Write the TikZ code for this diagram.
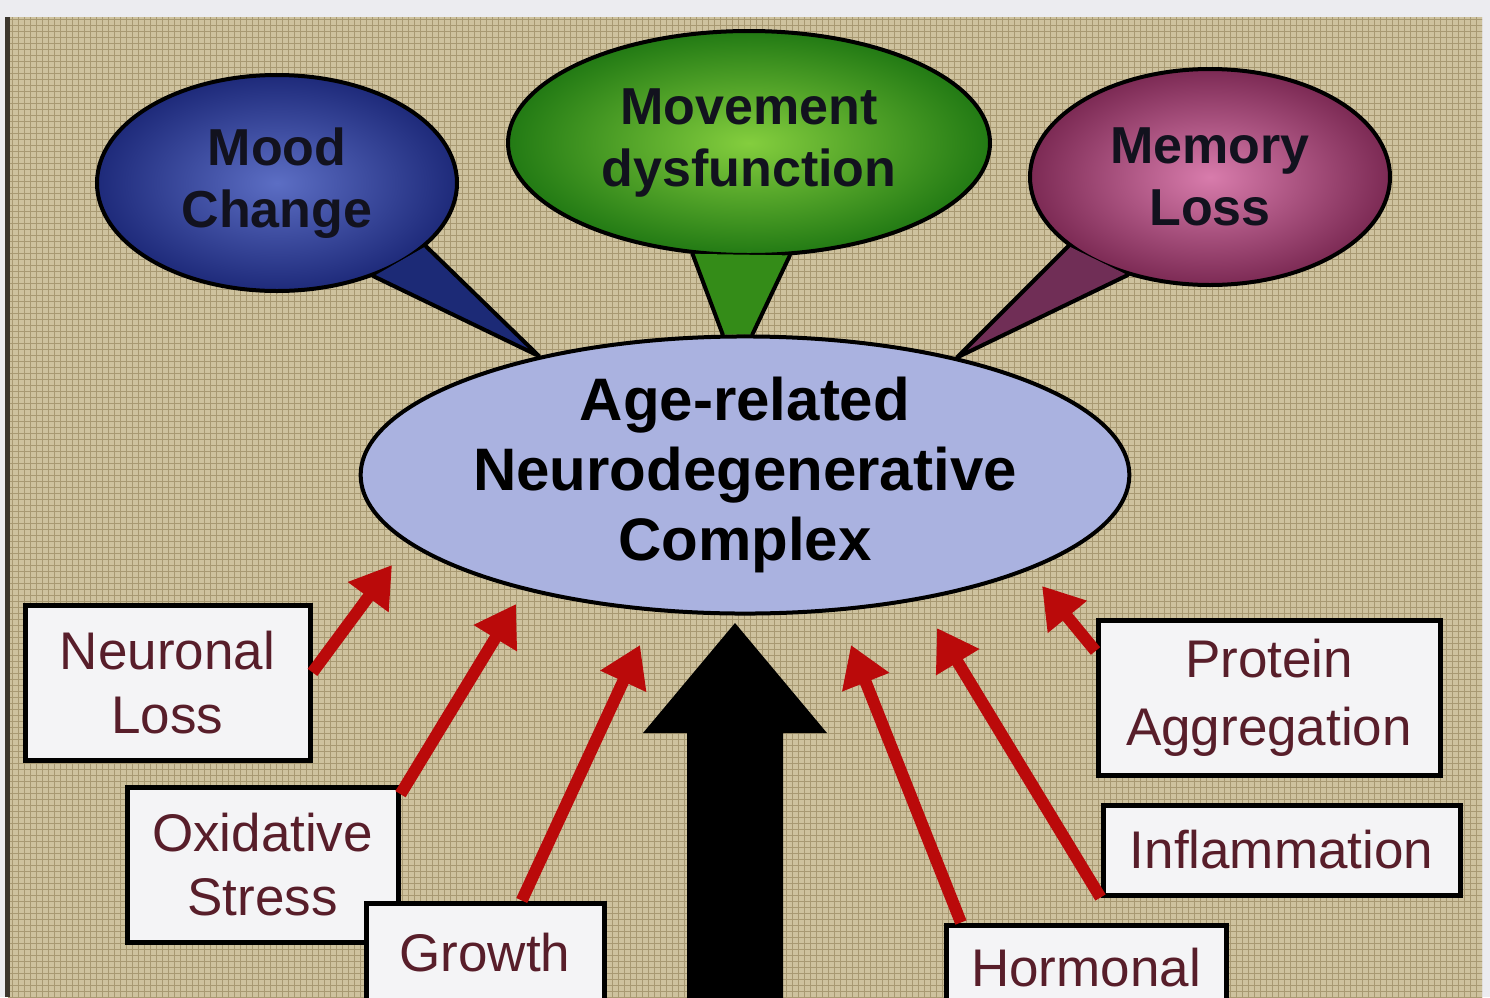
\documentclass[tikz,border=0pt]{standalone}
\usepackage{fontspec}
\setmainfont{Liberation Sans}
\usetikzlibrary{arrows.meta,shapes.geometric,shadows,patterns,calc}
\definecolor{pagegray}{RGB}{236,236,240}
\definecolor{burlap}{RGB}{206,194,158}
\definecolor{burlapdark}{RGB}{168,153,114}
\definecolor{edgedark}{RGB}{60,54,46}
\definecolor{moodin}{RGB}{92,110,196}
\definecolor{moodout}{RGB}{30,42,122}
\definecolor{moodtail}{RGB}{28,42,118}
\definecolor{movein}{RGB}{132,206,62}
\definecolor{moveout}{RGB}{34,122,20}
\definecolor{movetail}{RGB}{52,140,24}
\definecolor{memin}{RGB}{216,124,172}
\definecolor{memout}{RGB}{124,42,84}
\definecolor{memtail}{RGB}{112,46,86}
\definecolor{coreblue}{RGB}{170,178,224}
\definecolor{boxwhite}{RGB}{244,244,246}
\definecolor{boxtext}{RGB}{88,30,42}
\definecolor{arrowred}{RGB}{186,10,10}
\definecolor{bubbletext}{RGB}{18,18,30}
\pgfdeclarelayer{bg}
\pgfdeclarelayer{tails}
\pgfdeclarelayer{front}
\pgfsetlayers{bg,main,tails,front}
\tikzset{
  bubble/.style={ellipse, draw=black, line width=2pt, inner sep=0pt, align=center,
    text=bubbletext, font=\bfseries\fontsize{26}{31}\selectfont},
  core/.style={ellipse, draw=black, line width=2pt, fill=coreblue, inner sep=0pt,
    align=center, font=\bfseries\fontsize{30}{35}\selectfont,
    minimum width=380pt, minimum height=130pt},
  factor/.style={rectangle, draw=black, line width=2.5pt, fill=boxwhite, inner sep=0pt,
    align=center, text=boxtext, font=\fontsize{26.5}{32}\selectfont,
    drop shadow={shadow xshift=1.5pt, shadow yshift=-1.5pt, opacity=0.45}},
  redarrow/.style={draw=arrowred, line width=6pt, -{Triangle[length=20pt,width=24pt]}},
  tailline/.style={draw=black, line width=2pt, line join=round, line cap=round}
}
\begin{document}
\begin{tikzpicture}[x=0.5pt,y=-0.5pt]
\useasboundingbox (0,0) rectangle (1490,997);
\begin{pgfonlayer}{bg}
  \fill[pagegray] (0,0) rectangle (1490,997);
  \fill[burlap] (8,17) rectangle (1482,997);
  \fill[pattern=grid, pattern color=burlapdark] (8,17) rectangle (1482,997);
  \fill[edgedark] (5,17) rectangle (10,997);
\end{pgfonlayer}
\clip (0,0) rectangle (1490,997);

% central node
\begin{pgfonlayer}{front}
  \node[core] (core) at (745,475) {Age-related\\Neurodegenerative\\Complex};
\end{pgfonlayer}

% bubbles
\node[bubble, minimum width=180pt, minimum height=108pt, inner color=moodin, outer color=moodout] (mood) at (277,183) {Mood\\Change};
\node[bubble, minimum width=241pt, minimum height=112pt, inner color=movein, outer color=moveout] (move) at (749,143) {Movement\\dysfunction};
\node[bubble, minimum width=180pt, minimum height=108pt, inner color=memin, outer color=memout] (mem) at (1210,177) {Memory\\Loss};

% bubble tails
\begin{pgfonlayer}{tails}
  \fill[moodtail] (mood.-44) -- (core.150) -- (mood.-23) -- cycle;
  \draw[tailline] (mood.-44) -- (core.150) -- (mood.-23);
  \fill[movetail] (move.-117) -- (core.99) -- (core.87) -- (move.-70) -- cycle;
  \draw[tailline] (move.-117) -- (core.99);
  \draw[tailline] (move.-70) -- (core.87);
  \fill[memtail] (mem.-154) -- (core.29) -- (mem.-130) -- cycle;
  \draw[tailline] (mem.-154) -- (core.29) -- (mem.-130);
\end{pgfonlayer}

% factor boxes
\node[factor, minimum width=142.5pt, minimum height=77.5pt] (nl) at (167.5,682.5) {Neuronal\\Loss};
\node[factor, minimum width=135.5pt, minimum height=77.5pt] (ox) at (262.5,864.5) {Oxidative\\Stress};
\node[factor, minimum width=119pt, minimum height=50pt] (gr) at (485,953) {Growth};
\node[factor, minimum width=171pt, minimum height=77.5pt, font=\fontsize{26.5}{34}\selectfont] (pa) at (1269,697.5) {Protein\\Aggregation};
\node[factor, minimum width=178.5pt, minimum height=45pt] (inf) at (1281.5,850) {Inflammation};
\node[factor, minimum width=140pt, minimum height=43pt] (ho) at (1086,968) {Hormonal};

% red arrow tips
\coordinate (t1) at (392,565);
\coordinate (t2) at (516,604);
\coordinate (t3) at (640,645);
\coordinate (t4) at (851,645);
\coordinate (t5) at (937,628);
\coordinate (t6) at (1042,586);

\draw[redarrow] (nl.4) -- (t1);
\draw[redarrow] (ox.27) -- (t2);
\draw[redarrow] (gr.55) -- (t3);
\draw[redarrow] (ho.160) -- (t4);
\draw[redarrow] (inf.south west) -- (t5);
\draw[redarrow] (pa.165) -- (t6);

% big black arrow
\coordinate (bigbase) at (735,1000);
\fill[black] (bigbase) ++(-48,0) -- (687,733) -- (643,733) -- (735,623) -- (827,733) -- (783,733) -- (783,1000) -- cycle;
\end{tikzpicture}
\end{document}
